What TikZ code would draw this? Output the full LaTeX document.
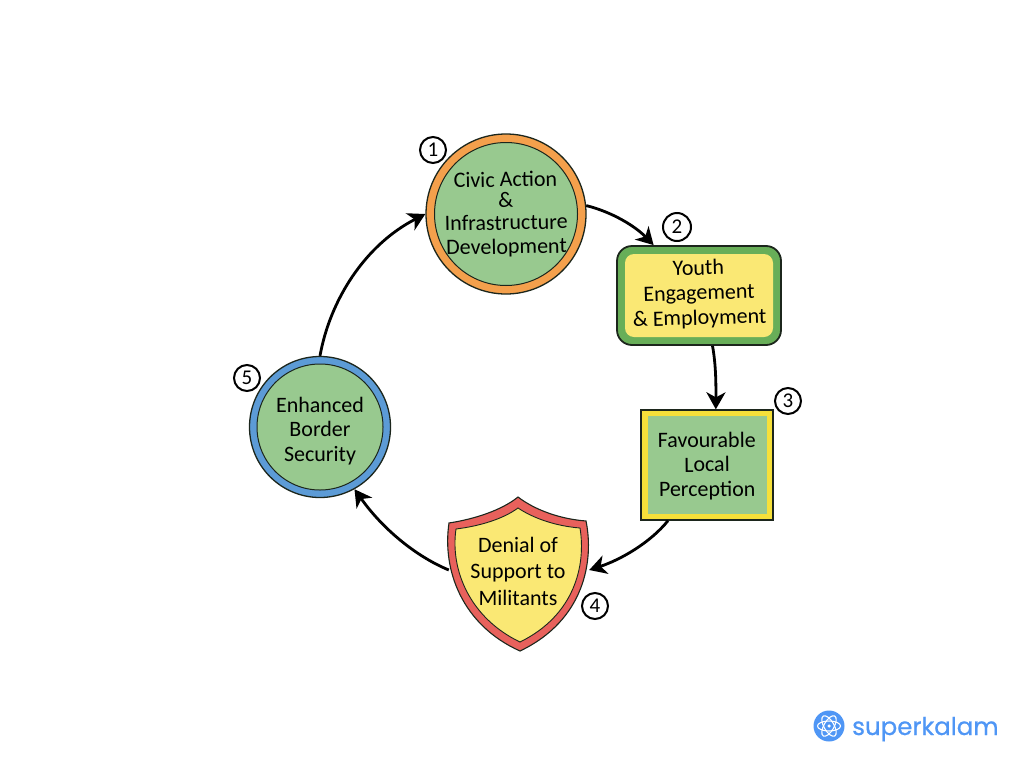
\documentclass[tikz,border=0pt]{standalone}
\usepackage{fontspec}
\usetikzlibrary{arrows.meta}
\setmainfont{Carlito}
\newfontfamily\logofont[FakeBold=0.8]{Poppins}
\definecolor{inkc}{HTML}{1C261C}
\definecolor{leaf}{HTML}{98C98F}
\definecolor{orangec}{HTML}{F4A04C}
\definecolor{butter}{HTML}{FAE874}
\definecolor{lemon}{HTML}{F6E03A}
\definecolor{grass}{HTML}{68AE58}
\definecolor{bluec}{HTML}{5C9BD6}
\definecolor{redc}{HTML}{E8615C}
\definecolor{brand}{HTML}{4F96F5}
\tikzset{
  x=1pt,y=-1pt,
  ring/.style={circle,draw=inkc,line width=1.3pt,inner sep=0pt,minimum size=#1},
  label text/.style={text=black,align=center,inner sep=0pt},
  badge/.style={circle,draw=black,line width=2pt,fill=white,minimum size=26pt,inner sep=0pt,font=\fontsize{21}{21}\selectfont},
  link/.style={draw=black,line width=2.8pt,-{Stealth[length=17pt,width=19pt,inset=5pt]}},
  atom/.style={draw=white,line width=1.1pt}
}
\begin{document}
\begin{tikzpicture}
\useasboundingbox (0,0) rectangle (1024,768);
% node 1
\node[ring=160pt,fill=orangec] (n1) at (506,214) {};
\node[ring=143pt,fill=leaf,line width=1pt] at (506,214) {};
\node[label text,rotate=1,font=\fontsize{22}{21}\selectfont] at (506,214.5) {Civic Action\\\&\\[1pt]Infrastructure\\[3pt]Development};
% node 2
\node[draw=inkc,line width=1.8pt,fill=grass,rounded corners=15pt,minimum width=164pt,minimum height=99pt] (n2) at (699,295.5) {};
\node[fill=butter,rounded corners=9pt,minimum width=148pt,minimum height=83pt] at (699,295.5) {};
\node[label text,rotate=1.5,font=\fontsize{22}{25}\selectfont] at (699,294) {Youth\\Engagement\\\& Employment};
% node 3
\node[draw=inkc,line width=1.3pt,fill=lemon,minimum width=132pt,minimum height=110pt] (n3) at (707,465) {};
\node[fill=leaf,minimum width=119pt,minimum height=98pt] at (707,465) {};
\node[label text,rotate=0.5,font=\fontsize{22}{24.5}\selectfont] at (707,466) {Favourable\\Local\\Perception};
% node 4 shield
\draw[draw=inkc,line width=1.1pt,fill=redc] (518,497)
  .. controls (535,510) and (560,519) .. (586,521)
  .. controls (594,560) and (585,620) .. (520,651)
  .. controls (462,625) and (442,570) .. (449,523)
  .. controls (475,519) and (502,510) .. (518,497) -- cycle;
\draw[draw=inkc,line width=0.9pt,fill=butter] (518,508)
  .. controls (533,518) and (555,526) .. (580,528)
  .. controls (586,565) and (575,615) .. (520,642)
  .. controls (470,618) and (450,570) .. (456,529)
  .. controls (480,526) and (503,519) .. (518,508) -- cycle;
\node[minimum width=140pt,minimum height=150pt,inner sep=0pt] (n4) at (519,570) {};
\node[label text,font=\fontsize{22}{26.5}\selectfont] at (518,571) {Denial of\\Support to\\Militants};
% node 5
\node[ring=141pt,fill=bluec] (n5) at (320,427) {};
\node[ring=126pt,fill=leaf,line width=1pt] at (320,427) {};
\node[label text,font=\fontsize{22}{24.5}\selectfont] at (320,431) {Enhanced\\Border\\Security};
% badges
\node[badge] (b1) at (433,150) {1};
\node[badge,minimum size=28pt] (b2) at (677,227) {2};
\node[badge] (b3) at (788,401) {3};
\node[badge] (b4) at (595,606) {4};
\node[badge] (b5) at (247,378) {5};
% connectors
\draw[link] (n1.6) .. controls (612,212) and (635,226) .. (n2.132);
\draw[link] (n2.-75) .. controls (716,365) and (716,385) .. (n3.81);
\draw[link] (n3.-125) .. controls (650,543) and (620,560) .. (n4.east);
\draw[link] (n4.west) .. controls (415,556) and (382,528) .. (n5.-61);
\draw[link] (n5.90) .. controls (330,300) and (365,245) .. (n1.180);
% logo
\node[circle,fill=brand,minimum size=31pt,inner sep=0pt] (logo) at (829,726) {};
\draw[atom] (829,726) ellipse[x radius=11.5pt,y radius=5pt];
\draw[atom,rotate around={60:(829,726)}] (829,726) ellipse[x radius=11.5pt,y radius=5pt];
\draw[atom,rotate around={-60:(829,726)}] (829,726) ellipse[x radius=11.5pt,y radius=5pt];
\node[circle,fill=white,minimum size=3.5pt,inner sep=0pt] (core) at (829,726) {};
\node[anchor=base west,inner sep=0pt,text=brand,font=\logofont\fontsize{24.5}{25}\selectfont] (brandname) at (852,735) {superkalam};
\end{tikzpicture}
\end{document}
